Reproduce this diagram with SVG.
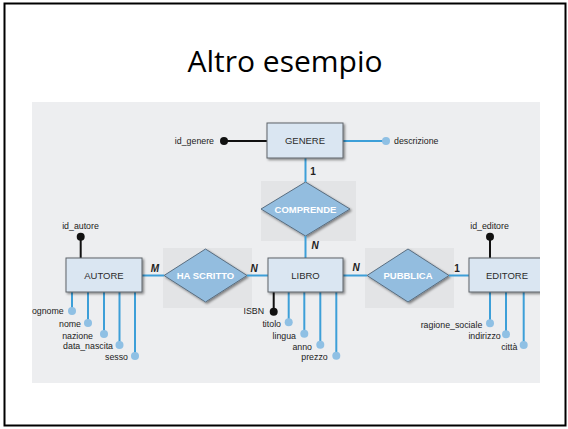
<svg xmlns="http://www.w3.org/2000/svg" width="568" height="429" viewBox="0 0 568 429">
<style>
.ent rect.b{fill:#dae6f2;stroke:#5f6368;stroke-width:1}
.ent text.nm{font-family:"Liberation Sans",Arial,sans-serif;font-size:9.5px;fill:#2b2b2b;text-anchor:middle}
.rel polygon{fill:#93bddf;stroke:#5a6e80;stroke-width:1}
.rel rect{fill:#e3e4e6}
.rel text{font-family:"Liberation Sans",Arial,sans-serif;font-size:9.5px;font-weight:bold;fill:#ffffff;text-anchor:middle}
.ln{stroke:#3d9fd8;stroke-width:2;fill:none}
.lk{stroke:#111;stroke-width:2;fill:none}
.dt{fill:#8fc0e4}
.dk{fill:#111}
text.at{font-family:"Liberation Sans",Arial,sans-serif;font-size:8.8px;fill:#222;text-anchor:end}
text.at.s{text-anchor:start}
text.at.m{text-anchor:middle}
.card{font-family:"Liberation Sans",Arial,sans-serif;font-size:10px;font-weight:bold;fill:#222;text-anchor:middle}
.it{font-style:italic}
</style>
<defs>
<filter id="sh" x="-20%" y="-20%" width="150%" height="150%">
<feDropShadow dx="1.5" dy="1.5" stdDeviation="1" flood-color="#000" flood-opacity="0.45"/>
</filter>
<clipPath id="pc"><rect x="28" y="102" width="512" height="281"/></clipPath>
</defs>
<rect x="4.5" y="3.5" width="561" height="422" fill="#fff" stroke="#000" stroke-width="2"/>
<text x="285" y="72" font-family="'Open Sans',sans-serif" font-size="30" fill="#000" text-anchor="middle">Altro esempio</text>
<rect x="32" y="102" width="508" height="281" fill="#edeef0"/>
<g clip-path="url(#pc)">
<g id="rel-comprende" class="rel">
<rect x="261" y="181" width="95" height="60"/>
<polygon points="305.5,182 350,209 305.5,236 261,209" filter="url(#sh)"/>
<text x="305.5" y="212.5">COMPRENDE</text>
</g>
<g id="rel-hascritto" class="rel">
<rect x="163" y="248" width="89" height="60"/>
<polygon points="205.5,249 247,275.5 205.5,302 164,275.5" filter="url(#sh)"/>
<text x="205.5" y="279">HA SCRITTO</text>
</g>
<g id="rel-pubblica" class="rel">
<rect x="365" y="248" width="89" height="60"/>
<polygon points="408,249 449,275.5 408,302 367,275.5" filter="url(#sh)"/>
<text x="408" y="279">PUBBLICA</text>
</g>
<g id="connectors">
<line class="lk" x1="224" y1="141" x2="267" y2="141"/>
<line class="ln" x1="343" y1="141" x2="386" y2="141"/>
<line class="ln" x1="305.5" y1="158" x2="305.5" y2="182"/>
<line class="ln" x1="305.5" y1="236" x2="305.5" y2="258"/>
<line class="ln" x1="142" y1="275.5" x2="164" y2="275.5"/>
<line class="ln" x1="247" y1="275.5" x2="268" y2="275.5"/>
<line class="ln" x1="343" y1="275.5" x2="367" y2="275.5"/>
<line class="ln" x1="449" y1="275.5" x2="469" y2="275.5"/>
<line class="lk" x1="80.7" y1="237" x2="80.7" y2="258"/>
<line class="lk" x1="490" y1="237" x2="490" y2="258"/>
<line class="ln" x1="72" y1="292" x2="72" y2="311"/>
<line class="ln" x1="88" y1="292" x2="88" y2="323"/>
<line class="ln" x1="104" y1="292" x2="104" y2="334"/>
<line class="ln" x1="119.5" y1="292" x2="119.5" y2="345"/>
<line class="ln" x1="135" y1="292" x2="135" y2="356"/>
<line class="lk" x1="273.7" y1="292" x2="273.7" y2="311.7"/>
<line class="ln" x1="288.7" y1="292" x2="288.7" y2="322.3"/>
<line class="ln" x1="304.3" y1="292" x2="304.3" y2="333.7"/>
<line class="ln" x1="320.3" y1="292" x2="320.3" y2="344.7"/>
<line class="ln" x1="336.3" y1="292" x2="336.3" y2="355.7"/>
<line class="ln" x1="490" y1="292" x2="490" y2="323.3"/>
<line class="ln" x1="506" y1="292" x2="506" y2="334.3"/>
<line class="ln" x1="523.7" y1="292" x2="523.7" y2="345"/>
<circle class="dk" cx="224" cy="141" r="4"/>
<circle class="dt" cx="386" cy="141" r="4"/>
<circle class="dk" cx="80.7" cy="236.7" r="4"/>
<circle class="dk" cx="490" cy="236.7" r="4"/>
<circle class="dt" cx="72" cy="311" r="4"/>
<circle class="dt" cx="88" cy="323" r="4"/>
<circle class="dt" cx="104" cy="334" r="4"/>
<circle class="dt" cx="119.5" cy="345" r="4"/>
<circle class="dt" cx="135" cy="356" r="4"/>
<circle class="dk" cx="273.7" cy="311.7" r="4"/>
<circle class="dt" cx="288.7" cy="322.3" r="4"/>
<circle class="dt" cx="304.3" cy="333.7" r="4"/>
<circle class="dt" cx="320.3" cy="344.7" r="4"/>
<circle class="dt" cx="336.3" cy="355.7" r="4"/>
<circle class="dt" cx="490" cy="323.3" r="4"/>
<circle class="dt" cx="506" cy="334.3" r="4"/>
<circle class="dt" cx="523.7" cy="345" r="4"/>
<text class="card" x="313" y="174.5">1</text>
<text class="card it" x="155" y="271.5">M</text>
<text class="card it" x="254" y="271.5">N</text>
<text class="card it" x="315" y="248.5">N</text>
<text class="card it" x="356" y="271">N</text>
<text class="card" x="457" y="271.5">1</text>
</g>
<g id="ent-genere" class="ent">
<rect class="b" x="267" y="123" width="76" height="35" filter="url(#sh)"/>
<text class="nm" x="305" y="144">GENERE</text>
<text class="at" x="214" y="144">id_genere</text>
<text class="at s" x="394" y="144">descrizione</text>
</g>
<g id="ent-autore" class="ent">
<rect class="b" x="66" y="258" width="76" height="34" filter="url(#sh)"/>
<text class="nm" x="104" y="279">AUTORE</text>
<text class="at m" x="80.5" y="229">id_autore</text>
<text class="at" x="63.7" y="314">ognome</text>
<text class="at" x="81" y="327">nome</text>
<text class="at" x="93" y="339">nazione</text>
<text class="at" x="113" y="349">data_nascita</text>
<text class="at" x="128" y="360">sesso</text>
</g>
<g id="ent-libro" class="ent">
<rect class="b" x="268" y="258" width="75" height="34" filter="url(#sh)"/>
<text class="nm" x="305.5" y="279">LIBRO</text>
<text class="at" x="264" y="314">ISBN</text>
<text class="at" x="281" y="327">titolo</text>
<text class="at" x="296" y="339">lingua</text>
<text class="at" x="312" y="350">anno</text>
<text class="at" x="327.7" y="360">prezzo</text>
</g>
<g id="ent-editore" class="ent">
<rect class="b" x="469" y="258" width="76" height="34" filter="url(#sh)"/>
<text class="nm" x="507" y="279">EDITORE</text>
<text class="at m" x="489.5" y="229">id_editore</text>
<text class="at" x="482.3" y="328">ragione_sociale</text>
<text class="at" x="500.7" y="339">indirizzo</text>
<text class="at" x="517.3" y="350">città</text>
</g>
</g>
</svg>
